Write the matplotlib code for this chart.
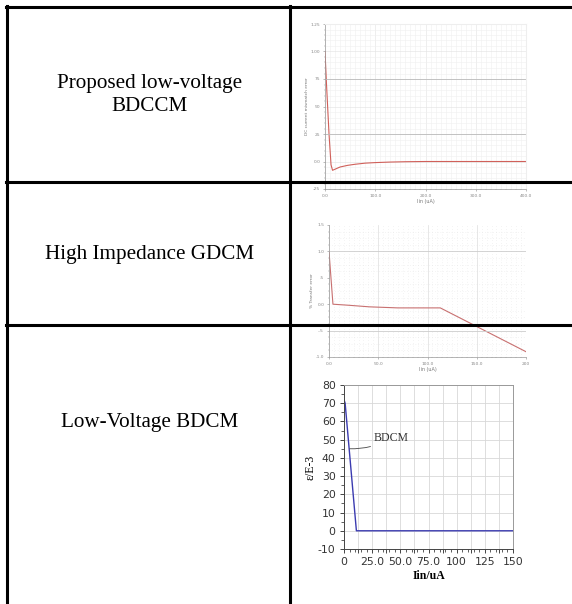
import numpy as np
import matplotlib
matplotlib.use("Agg")
import matplotlib.pyplot as plt
from matplotlib.lines import Line2D

# row labels of the table
row_labels = ["Proposed low-voltage\nBDCCM", "High Impedance GDCM", "Low-Voltage BDCM"]

# panel 1: proposed low-voltage BDCCM, error vs Iin (uA)
p1_x = [0, 3, 8, 12, 15, 20, 30, 45, 60, 80, 100, 130, 160, 200, 250, 300, 350, 400]
p1_y = [100, 70, 25, -3, -8, -7, -5, -3.5, -2.5, -1.5, -1, -0.5, -0.2, 0, 0, 0, 0, 0]
p1_yticks = [125, 100, 75, 50, 25, 0, -25]
p1_yticklabels = ["1.25", "1.00", "75", "50", "25", "0.0", "-25"]
p1_xticks = [0, 100, 200, 300, 400]
p1_xticklabels = ["0.0", "100.0", "200.0", "300.0", "400.0"]

# panel 2: high impedance GDCM
p2_x = [0, 4, 20, 41, 70, 113, 200]
p2_y = [1.0, 0.0, -0.02, -0.05, -0.07, -0.07, -0.9]
p2_yticks = [1.5, 1.0, 0.5, 0.0, -0.5, -1.0]
p2_yticklabels = ["1.5", "1.0", ".5", "0.0", "-.5", "-1.0"]
p2_xticks = [0, 50, 100, 150, 200]
p2_xticklabels = ["0.0", "50.0", "100.0", "150.0", "200"]

# panel 3: low-voltage BDCM
p3_x = [0, 1, 11, 30, 60, 100, 150]
p3_y = [72, 70, 0, 0, 0, 0, 0]
p3_yticks = [-10, 0, 10, 20, 30, 40, 50, 60, 70, 80]
p3_xticks = [0, 12.5, 25, 37.5, 50, 62.5, 75, 87.5, 100, 112.5, 125, 137.5, 150]
p3_xticklabels = ["0", "", "25.0", "", "50.0", "", "75.0", "", "100", "", "125", "", "150"]

W, H = 572, 604
fig = plt.figure(figsize=(W / 100, H / 100), dpi=100)


def px_axes(x0, y0, x1, y1):
    # pixel box (top-left origin) -> figure axes
    return fig.add_axes([x0 / W, 1 - y1 / H, (x1 - x0) / W, (y1 - y0) / H])


def hline(y, x0, x1):
    fig.add_artist(Line2D([x0 / W, x1 / W], [1 - y / H, 1 - y / H], color="black", lw=2.2))


def vline(x, y0, y1):
    fig.add_artist(Line2D([x / W, x / W], [1 - y0 / H, 1 - y1 / H], color="black", lw=2.2))


# table lines
hline(7, 6, W)
hline(182, 6, W)
hline(325, 6, W)
vline(6.5, 6, H)
vline(290, 6, H)

# row labels
serif = "Liberation Serif"
fig.text(150 / W, 1 - 95 / H, row_labels[0], ha="center", va="center",
         fontsize=15.2, family=serif, linespacing=1.35)
fig.text(150 / W, 1 - 254 / H, row_labels[1], ha="center", va="center",
         fontsize=15.2, family=serif)
fig.text(150 / W, 1 - 423 / H, row_labels[2], ha="center", va="center",
         fontsize=15.2, family=serif)

tiny = dict(fontsize=3.2, color="#777777")

# panel 1
ax1 = px_axes(325, 24, 526, 189)
ax1.plot(p1_x, p1_y, color="#d0605a", lw=0.8)
ax1.set_xlim(0, 400)
ax1.set_ylim(-25, 125)
ax1.set_xticks(p1_xticks)
ax1.set_xticklabels(p1_xticklabels, **tiny)
ax1.set_yticks(p1_yticks)
ax1.set_yticklabels(p1_yticklabels, **tiny)
ax1.set_xticks(np.arange(0, 401, 10), minor=True)
ax1.set_yticks(np.arange(-25, 126, 5), minor=True)
ax1.grid(which="minor", color="#efefef", lw=0.4)
ax1.grid(which="major", color="#e2e2e2", lw=0.4)
for yy in [75, 25]:
    ax1.axhline(yy, color="#bbbbbb", lw=0.6)
ax1.set_xlabel("Iin (uA)", fontsize=3.5, color="#777777", labelpad=1)
ax1.set_ylabel("DC current mismatch error", fontsize=3.2, color="#777777", labelpad=1)
ax1.tick_params(length=1.5, width=0.4, pad=2, colors="#888888")
ax1.tick_params(which="minor", length=1, width=0.3, colors="#888888")
for s in ["top", "right"]:
    ax1.spines[s].set_color("#eeeeee")
for s in ["left", "bottom"]:
    ax1.spines[s].set_color("#999999")
    ax1.spines[s].set_linewidth(0.5)

# panel 2
ax2 = px_axes(329, 225, 526, 357)
ax2.plot(p2_x, p2_y, color="#c87070", lw=0.8)
ax2.set_xlim(0, 200)
ax2.set_ylim(-1.0, 1.5)
ax2.set_xticks(p2_xticks)
ax2.set_xticklabels(p2_xticklabels, **tiny)
ax2.set_yticks(p2_yticks)
ax2.set_yticklabels(p2_yticklabels, **tiny)
ax2.set_xticks(np.arange(0, 201, 5), minor=True)
ax2.set_yticks(np.arange(-1.0, 1.51, 0.125), minor=True)
ax2.grid(which="minor", color="#dddddd", lw=0.4, ls=(0, (1, 4)))
ax2.grid(which="major", axis="x", color="#dddddd", lw=0.5)
for yy in [1.0, -0.5]:
    ax2.axhline(yy, color="#cccccc", lw=0.6)
ax2.set_xlabel("Iin (uA)", fontsize=3.5, color="#777777", labelpad=0.5)
ax2.set_ylabel("% Transfer error", fontsize=3.2, color="#777777", labelpad=1)
ax2.tick_params(length=1.5, width=0.4, pad=2, colors="#888888")
ax2.tick_params(which="minor", length=1, width=0.3, colors="#888888")
for s in ["top", "right"]:
    ax2.spines[s].set_visible(False)
for s in ["left", "bottom"]:
    ax2.spines[s].set_color("#999999")
    ax2.spines[s].set_linewidth(0.5)

# panel 3
ax3 = px_axes(344, 385, 513, 549)
ax3.plot(p3_x, p3_y, color="#3b3bb0", lw=1.0)
ax3.set_xlim(0, 150)
ax3.set_ylim(-10, 80)
ax3.set_xticks(p3_xticks)
ax3.set_xticklabels(p3_xticklabels, fontsize=7.8, color="#333333")
ax3.set_yticks(p3_yticks)
ax3.set_yticklabels([str(v) for v in p3_yticks], fontsize=7.8, color="#333333")
ax3.set_xticks(np.arange(0, 151, 5), minor=True)
ax3.set_yticks(np.arange(-10, 81, 5), minor=True)
ax3.grid(which="major", color="#d8d8d8", lw=0.6)
ax3.tick_params(length=3, width=0.7, pad=3, colors="#444444")
ax3.tick_params(which="minor", length=2, width=0.6, colors="#444444")
ax3.tick_params(axis="both", labelcolor="#333333")
for s in ax3.spines.values():
    s.set_color("#999999")
    s.set_linewidth(0.7)
ax3.spines["left"].set_color("#444444")
ax3.spines["bottom"].set_color("#444444")
ax3.set_xlabel("Iin/uA", fontsize=8.5, family=serif, fontweight="bold", labelpad=2)
ax3.set_ylabel("ε/E-3", fontsize=8.5, family=serif, labelpad=1)
ax3.annotate("BDCM", xy=(5, 45), xytext=(26, 51), fontsize=8.5, family=serif,
             color="#333333", va="center",
             arrowprops=dict(arrowstyle="-", color="#444444", lw=0.6,
                             connectionstyle="arc3,rad=-0.15", shrinkA=0, shrinkB=0))

fig.savefig("out.png", dpi=100, facecolor="white")
